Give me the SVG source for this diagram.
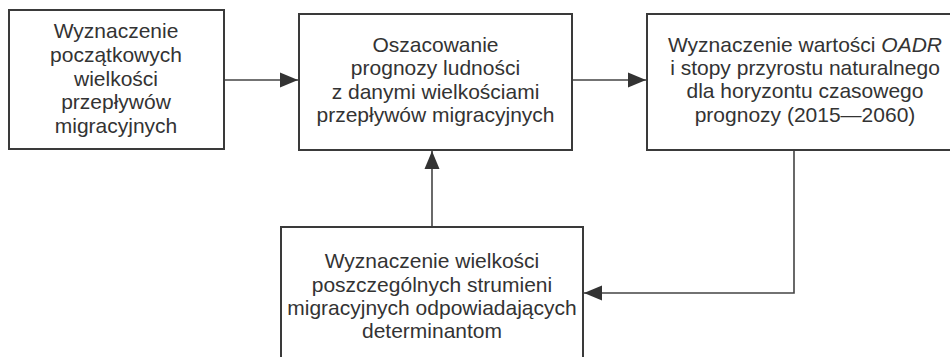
<svg xmlns="http://www.w3.org/2000/svg" width="950" height="357" viewBox="0 0 950 357">
<style>
.box{fill:#fff;stroke:#3a3a3a;stroke-width:2}
.t{font-family:"Liberation Sans",Arial,sans-serif;font-size:21px;fill:#333;text-anchor:middle}
.c{fill:none;stroke:#444;stroke-width:1.6}
</style>
<defs>
<marker id="ah" markerUnits="userSpaceOnUse" markerWidth="20" markerHeight="16" refX="18" refY="8" orient="auto">
<path d="M0,0.5 L18,8 L0,15.5 Z" fill="#333"/>
</marker>
</defs>
<rect width="950" height="357" fill="#fff"/>
<g id="connectors">
<path class="c" d="M224,80 H298" marker-end="url(#ah)"/>
<path class="c" d="M572,80 H646" marker-end="url(#ah)"/>
<path class="c" d="M432,227 V151" marker-end="url(#ah)"/>
<path class="c" d="M794,150 V293 H584" marker-end="url(#ah)"/>
</g>
<g id="node1">
<rect class="box" x="9" y="10" width="215" height="139"/>
<text class="t" x="116"><tspan x="116" y="38">Wyznaczenie</tspan><tspan x="116" y="61.8">początkowych</tspan><tspan x="116" y="85.6">wielkości</tspan><tspan x="116" y="109.4">przepływów</tspan><tspan x="116" y="133.2">migracyjnych</tspan></text>
</g>
<g id="node2">
<rect class="box" x="299" y="14" width="273" height="136"/>
<text class="t"><tspan x="435.5" y="52">Oszacowanie</tspan><tspan x="435.5" y="75.3">prognozy ludności</tspan><tspan x="435.5" y="98.6">z danymi wielkościami</tspan><tspan x="435.5" y="122">przepływów migracyjnych</tspan></text>
</g>
<g id="node3">
<rect class="box" x="647" y="14" width="316" height="136"/>
<text class="t"><tspan x="805" y="51.7">Wyznaczenie wartości <tspan font-style="italic">OADR</tspan></tspan><tspan x="805" y="75">i stopy przyrostu naturalnego</tspan><tspan x="805" y="98.3">dla horyzontu czasowego</tspan><tspan x="805" y="121.7">prognozy (2015—2060)</tspan></text>
</g>
<g id="node4">
<rect class="box" x="281" y="227" width="302" height="150"/>
<text class="t"><tspan x="432" y="268.3">Wyznaczenie wielkości</tspan><tspan x="432" y="291.7">poszczególnych strumieni</tspan><tspan x="432" y="315">migracyjnych odpowiadających</tspan><tspan x="432" y="338.3">determinantom</tspan></text>
</g>
</svg>
